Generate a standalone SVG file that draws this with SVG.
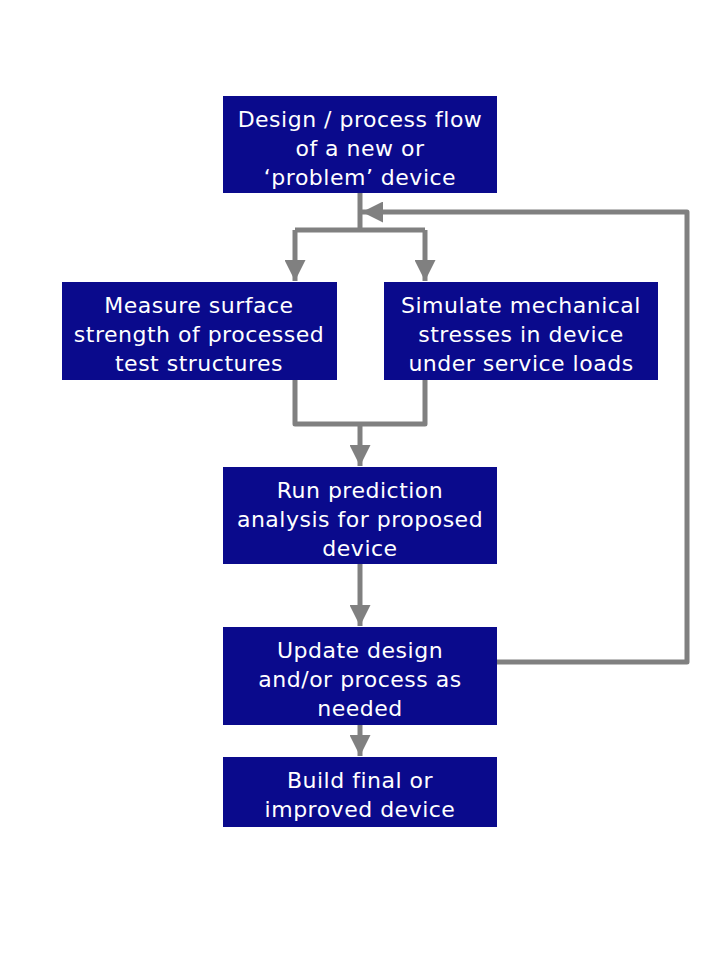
<svg xmlns="http://www.w3.org/2000/svg" width="720" height="960" viewBox="0 0 720 960">
<defs>
<style>
.box{fill:#0a0a8c}
.t{font-family:"DejaVu Sans",sans-serif;font-size:22px;letter-spacing:0.5px;fill:#ffffff;text-anchor:middle}
.c{fill:none;stroke:#808080;stroke-width:5;stroke-linejoin:round}
</style>
<marker id="ah" viewBox="0 0 10 10" refX="10" refY="5" markerWidth="4.2" markerHeight="4.2" markerUnits="strokeWidth" orient="auto">
<path d="M0,0 L10,5 L0,10 Z" fill="#808080"/>
</marker>
</defs>
<rect width="720" height="960" fill="#ffffff"/>
<g id="connectors">
<path class="c" d="M360,193 V230"/>
<path class="c" d="M295,230 H425"/>
<path class="c" d="M295,230 V281" marker-end="url(#ah)"/>
<path class="c" d="M425,230 V281" marker-end="url(#ah)"/>
<path class="c" d="M295,380 V424 H425 V380"/>
<path class="c" d="M360,424 V466" marker-end="url(#ah)"/>
<path class="c" d="M360,564 V626" marker-end="url(#ah)"/>
<path class="c" d="M360,725 V756" marker-end="url(#ah)"/>
<path class="c" d="M497,662 H687 V212 H362" marker-end="url(#ah)"/>
</g>
<g id="n1"><rect class="box" x="223" y="96" width="274" height="97"/>
<text class="t" x="360" y="127">Design / process flow</text>
<text class="t" x="360" y="156">of a new or</text>
<text class="t" x="360" y="185">‘problem’ device</text></g>
<g id="n2"><rect class="box" x="62" y="282" width="275" height="98"/>
<text class="t" x="199" y="313">Measure surface</text>
<text class="t" x="199" y="342">strength of processed</text>
<text class="t" x="199" y="371">test structures</text></g>
<g id="n3"><rect class="box" x="384" y="282" width="274" height="98"/>
<text class="t" x="521" y="313">Simulate mechanical</text>
<text class="t" x="521" y="342">stresses in device</text>
<text class="t" x="521" y="371">under service loads</text></g>
<g id="n4"><rect class="box" x="223" y="467" width="274" height="97"/>
<text class="t" x="360" y="498">Run prediction</text>
<text class="t" x="360" y="527">analysis for proposed</text>
<text class="t" x="360" y="556">device</text></g>
<g id="n5"><rect class="box" x="223" y="627" width="274" height="98"/>
<text class="t" x="360" y="658">Update design</text>
<text class="t" x="360" y="687">and/or process as</text>
<text class="t" x="360" y="716">needed</text></g>
<g id="n6"><rect class="box" x="223" y="757" width="274" height="70"/>
<text class="t" x="360" y="788">Build final or</text>
<text class="t" x="360" y="817">improved device</text></g>
</svg>
